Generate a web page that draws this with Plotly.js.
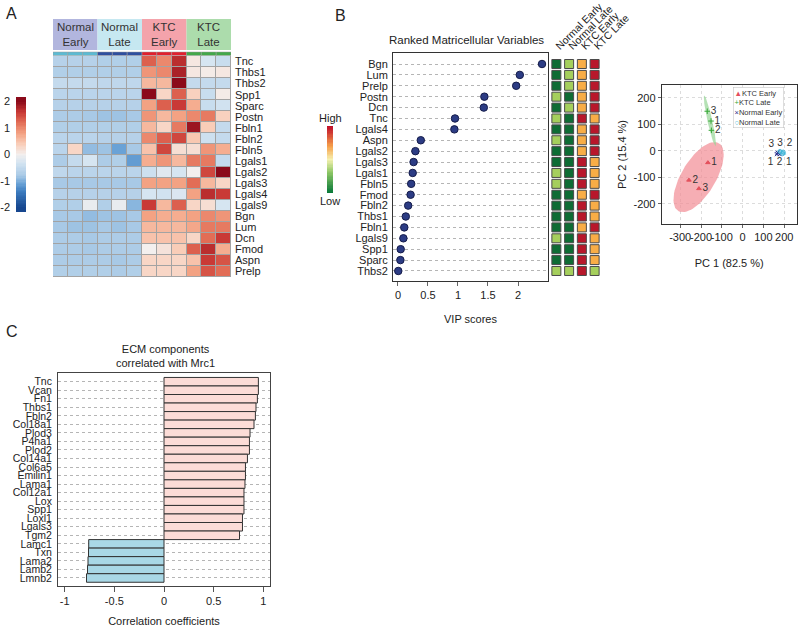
<!DOCTYPE html>
<html><head><meta charset="utf-8">
<script src="https://cdn.plot.ly/plotly-3.0.1.min.js"></script>
<style>html,body{margin:0;padding:0;background:#fff}#chart{width:800px;height:627px}</style>
</head><body><div id="chart"></div>
<script>
// ================= DATA =================
// Panel A: heatmap (z-scores), 12 samples x 20 genes
const heatGenes = ['Tnc','Thbs1','Thbs2','Spp1','Sparc','Postn','Fbln1','Fbln2','Fbln5','Lgals1','Lgals2','Lgals3','Lgals4','Lgals9','Bgn','Lum','Dcn','Fmod','Aspn','Prelp'];
const heatGroups = ['Normal<br>Early','Normal<br>Late','KTC<br>Early','KTC<br>Late'];
const heatGroupFill = ['#b2b6de','#c6e8f1','#f4a3ab','#acdcac'];
const heatGroupStrip = ['#5cbad2','#2f4e9e','#e0202e','#43a84a'];
const heatValues = [
  [-0.65,-0.65,-0.65,-0.7,-0.7,-0.7, 1.3,1.0,1.7, 0.1,-0.3,-0.45],   // Tnc
  [-0.7,-0.7,-0.7,-0.7,-0.7,-0.7, 0.9,1.0,1.8, 0.1,0.05,0.1],        // Thbs1
  [-0.5,-0.5,-0.5,-0.55,-0.55,-0.55, 0.6,0.6,2.3, -0.5,-0.5,-0.5],   // Thbs2
  [-0.6,-0.6,-0.6,-0.6,-0.6,-0.6, 2.0,0.3,1.3, 0.35,-0.45,0.05],     // Spp1
  [-0.65,-0.65,-0.65,-0.65,-0.65,-0.65, 0.8,1.3,1.6, 0.7,-0.45,-0.35],// Sparc
  [-0.75,-0.75,-0.8,-0.85,-0.85,-0.8, 0.9,0.6,0.8, 1.0,1.1,0.35],    // Postn
  [-0.7,-0.7,-0.7,-0.7,-0.7,-0.7, 0.6,0.3,1.1, 1.9,0.4,-0.5],        // Fbln1
  [-0.6,-0.6,-0.6,-0.65,-0.65,-0.65, 1.0,1.3,1.5, 0.45,-0.4,-0.5],   // Fbln2
  [-0.6,0.3,-0.9,-0.85,-1.1,-0.8, 0.5,1.5,0.2, 0.2,0.9,0.7],         // Fbln5
  [-0.75,-0.5,-0.3,-0.75,-0.7,-1.15, 0.7,0.9,0.6, 1.1,1.1,-0.5],     // Lgals1
  [-0.55,-0.6,-0.6,-0.6,-0.6,-0.6, -0.4,-0.2,-0.3, 0.0,1.5,2.0],     // Lgals2
  [-0.8,-0.8,-0.8,-0.8,-0.8,-0.8, 0.8,0.8,0.8, 1.2,0.6,0.3],         // Lgals3
  [-0.65,-0.65,-0.65,-0.65,-0.65,-0.65, -0.3,-0.35,-0.25, 0.8,1.7,1.6],// Lgals4
  [-0.7,-0.7,-0.1,-0.7,-0.1,-0.95, 1.6,0.6,1.3, 0.3,0.2,-0.3],       // Lgals9
  [-0.8,-0.8,-0.9,-0.85,-0.85,-0.8, 0.8,0.7,0.7, 0.8,1.0,0.9],       // Bgn
  [-0.8,-0.85,-0.85,-0.8,-0.85,-0.8, 0.6,0.6,0.6, 0.75,1.1,1.1],     // Lum
  [-0.75,-0.75,-0.8,-0.75,-0.75,-0.75, 0.5,0.5,0.5, 0.3,1.2,1.6],    // Dcn
  [-0.75,-0.75,-0.8,-0.75,-0.75,-0.75, 0.0,0.15,0.4, 1.3,1.7,0.7],   // Fmod
  [-0.75,-0.75,-0.75,-0.75,-0.8,-0.75, 0.3,0.3,0.3, 0.5,1.6,1.4],    // Aspn
  [-0.7,-0.7,-0.7,-0.7,-0.75,-0.7, 0.3,0.3,0.3, 0.8,1.4,1.2]         // Prelp
];
const heatScaleTicks = [-2,-1,0,1,2];

// Panel B: VIP scores
const vipGenes = ['Bgn','Lum','Prelp','Postn','Dcn','Tnc','Lgals4','Aspn','Lgals2','Lgals3','Lgals1','Fbln5','Fmod','Fbln2','Thbs1','Fbln1','Lgals9','Spp1','Sparc','Thbs2'];
const vipScores = [2.40,2.03,1.97,1.44,1.43,0.95,0.94,0.38,0.29,0.26,0.245,0.22,0.21,0.17,0.13,0.105,0.09,0.045,0.04,0.005];
const vipTicks = [0,0.5,1,1.5,2];
const vipGroupLabels = ['Normal Early','Normal Late','KTC Early','KTC Late'];
// relative level per group: 0 low (dark green) .. 3 high (red)
const vipLevels = [
  [0,1,2,3],[0,1,2,3],[0,1,2,3],[1,0,2,3],[0,1,2,3],
  [1,0,3,2],[0,0,2,3],[1,0,2,3],[0,0,2,3],[0,0,3,2],
  [1,0,3,2],[1,0,3,2],[0,0,2,3],[0,0,3,2],[0,0,3,2],
  [0,0,2,3],[1,0,3,2],[0,0,3,2],[0,0,3,2],[1,1,3,1]
];
const levelColors = ['#0e6c34','#a5cf5c','#f8ad46','#b8172b'];

// PCA panel
const pcaGroups = ['KTC Early','KTC Late','Normal Early','Normal Late'];
const pcaPC1 = { 'KTC Early':[-167,-258,-210], 'KTC Late':[-152,-150,-170], 'Normal Early':[165,178,168], 'Normal Late':[192,195,180] };
const pcaPC2 = { 'KTC Early':[-44,-110,-142], 'KTC Late':[113,78,150], 'Normal Early':[-12,-12,-6], 'Normal Late':[-10,-4,-2] };
const pcaReplicate = ['1','2','3'];
const pcaTicksX = [-300,-200,-100,0,100,200];
const pcaTicksY = [-200,-100,0,100,200];

// Panel C: correlations with Mrc1
const corrGenes = ['Tnc','Vcan','Fn1','Thbs1','Fbln2','Col18a1','Plod3','P4ha1','Plod2','Col14a1','Col6a5','Emilin1','Lama1','Col12a1','Lox','Spp1','Loxl1','Lgals3','Tgm2','Lamc1','Txn','Lama2','Lamb2','Lmnb2'];
const corrValues = [0.95,0.95,0.94,0.926,0.92,0.906,0.866,0.86,0.86,0.84,0.82,0.82,0.815,0.805,0.805,0.805,0.79,0.79,0.76,-0.758,-0.76,-0.765,-0.77,-0.78];
const corrTicks = [-1,-0.5,0,0.5,1];

// ================= STYLE / LAYOUT =================
const W = 800, H = 627;
const X = p => p / W, Y = p => 1 - p / H;
const FONT = '"Liberation Sans", Arial, Helvetica, sans-serif';
const TXT = '#222';
const idx = n => Array.from({length:n}, (_, i) => i);

const rdbu = [[0,'#17478f'],[0.15,'#3d7dc0'],[0.225,'#6aa2d6'],[0.3,'#a8c9e6'],[0.42,'#d4e4f1'],[0.5,'#f3efee'],[0.6,'#f9cdb8'],[0.7,'#f3a283'],[0.8,'#e26d56'],[0.9,'#c93a36'],[1,'#8b0a1a']];
const gyr = [[0,'#0a7a3a'],[0.3,'#8cc665'],[0.5,'#f6f1b0'],[0.7,'#f6a04a'],[1,'#c0102a']];

// legend-style color ramps (style only)
const rampA = []; for (let v = -2.15; v <= 2.1501; v += 0.05) rampA.push(+v.toFixed(2));
const rampB = []; for (let v = 0; v <= 1.0001; v += 0.02) rampB.push(+v.toFixed(2));

function covEllipse(xs, ys, k, n) {
  const m = xs.length;
  const mx = xs.reduce((a,b)=>a+b,0)/m, my = ys.reduce((a,b)=>a+b,0)/m;
  let sxx=0, syy=0, sxy=0;
  for (let i=0;i<m;i++){ const dx=xs[i]-mx, dy=ys[i]-my; sxx+=dx*dx; syy+=dy*dy; sxy+=dx*dy; }
  sxx/=(m-1); syy/=(m-1); sxy/=(m-1);
  const tr=sxx+syy, det=sxx*syy-sxy*sxy, d=Math.sqrt(Math.max(tr*tr/4-det,0));
  const l1=tr/2+d, l2=Math.max(tr/2-d,0);
  const ang=Math.atan2(l1-sxx, sxy);
  const a=k*Math.sqrt(l1), b=k*Math.sqrt(l2);
  const ex=[], ey=[];
  for (let i=0;i<=n;i++){ const t=2*Math.PI*i/n;
    ex.push(mx + a*Math.cos(t)*Math.cos(ang) - b*Math.sin(t)*Math.sin(ang));
    ey.push(my + a*Math.cos(t)*Math.sin(ang) + b*Math.sin(t)*Math.cos(ang)); }
  return {ex, ey};
}
const ellipseScale = 2.65;
const pcaStyle = {
  'KTC Early':   {color:'#e4505c', symbol:'triangle-up', fill:'rgba(242,140,148,0.7)', tp:['middle right','middle right','middle right']},
  'KTC Late':    {color:'#3aa83a', symbol:'cross-thin-open', fill:'rgba(150,212,150,0.7)', tp:['middle right','middle right','middle right']},
  'Normal Early':{color:'#2b2f8a', symbol:'x-thin-open', fill:'rgba(170,170,220,0.6)', tp:['bottom left','bottom center','top left']},
  'Normal Late': {color:'#3fb6d6', symbol:'circle-open', fill:'rgba(110,200,230,0.8)', tp:['bottom right','top right','top center']}
};

const traces = [];
// A heatmap
traces.push({type:'heatmap', z:heatValues, x:idx(12), y:idx(heatGenes.length), xaxis:'x', yaxis:'y',
  colorscale:rdbu, zmin:-2, zmax:2, showscale:false, xgap:1, ygap:1, hoverinfo:'skip'});
// A color scale bar
traces.push({type:'heatmap', z:rampA.map(v=>[v]), x:[0], y:rampA, xaxis:'x2', yaxis:'y2',
  colorscale:rdbu, zmin:-2, zmax:2, showscale:false, hoverinfo:'skip'});
// B dots
traces.push({type:'scatter', mode:'markers', x:vipScores, y:idx(vipGenes.length), xaxis:'x3', yaxis:'y3',
  marker:{size:7.5, color:'#2c3c84', line:{color:'#151c4a', width:1}}, showlegend:false, hoverinfo:'skip'});
// B squares
const sqX=[], sqY=[], sqC=[];
vipLevels.forEach((row, r) => row.forEach((lv, c) => { sqX.push(c); sqY.push(r); sqC.push(levelColors[lv]); }));
traces.push({type:'scatter', mode:'markers', x:sqX, y:sqY, xaxis:'x4', yaxis:'y4',
  marker:{symbol:'square', size:9, color:sqC, line:{color:'#4a4a4a', width:1}}, showlegend:false, hoverinfo:'skip'});
// B High/Low bar
traces.push({type:'heatmap', z:rampB.map(v=>[v]), x:[0], y:rampB, xaxis:'x5', yaxis:'y5',
  colorscale:gyr, zmin:0, zmax:1, showscale:false, hoverinfo:'skip'});
// PCA ellipses
pcaGroups.forEach(g => {
  const e = covEllipse(pcaPC1[g], pcaPC2[g], ellipseScale, 80);
  traces.push({type:'scatter', mode:'lines', x:e.ex, y:e.ey, xaxis:'x6', yaxis:'y6', fill:'toself',
    fillcolor:pcaStyle[g].fill, line:{width:0}, showlegend:false, hoverinfo:'skip'});
});
// PCA points
pcaGroups.forEach(g => {
  traces.push({type:'scatter', mode:'markers+text', x:pcaPC1[g], y:pcaPC2[g], xaxis:'x6', yaxis:'y6',
    text:pcaReplicate, textposition:pcaStyle[g].tp, textfont:{size:10, color:'#333', family:FONT},
    marker:{symbol:pcaStyle[g].symbol, size:4, color:pcaStyle[g].color, line:{color:pcaStyle[g].color, width:1}},
    name:g, showlegend:false, hoverinfo:'skip', cliponaxis:false});
});
// C bars
traces.push({type:'bar', orientation:'h', x:corrValues, y:idx(corrGenes.length), xaxis:'x7', yaxis:'y7', width:1,
  marker:{color:corrValues.map(v => v >= 0 ? '#fcdcd7' : '#a9d8e6'), line:{color:'#333', width:1}},
  showlegend:false, hoverinfo:'skip'});

const baseAx = {showgrid:false, zeroline:false, ticks:'', fixedrange:true, tickfont:{size:11, color:TXT, family:FONT}};
const titleFont = {size:11, color:TXT, family:FONT};

const shapes = [];
// grey cell borders under heatmap
shapes.push({type:'rect', xref:'x', yref:'y', x0:-0.5, x1:11.5, y0:-0.5, y1:19.5, fillcolor:'#a3a3a3', line:{color:'#a3a3a3', width:1}, layer:'below'});
heatGroups.forEach((g, i) => {
  shapes.push({type:'rect', xref:'x', yref:'paper', x0:3*i-0.5, x1:3*i+2.5, y0:Y(50), y1:Y(19), fillcolor:heatGroupFill[i], line:{width:0}, layer:'below'});
  for (let j = 0; j < 3; j++)
    shapes.push({type:'rect', xref:'x', yref:'paper', x0:3*i+j-0.5, x1:3*i+j+0.5, y0:Y(55.5), y1:Y(52), fillcolor:heatGroupStrip[i], line:{color:'#9a9a9a', width:0.5}});
});

const annotations = [];
const ann = (x, y, text, size, extra) => annotations.push(Object.assign({xref:'paper', yref:'paper', x:X(x), y:Y(y), xanchor:'center', yanchor:'middle', text, showarrow:false, font:{size, color:TXT, family:FONT}}, extra || {}));
ann(4, 13, 'A', 16, {xanchor:'left'});
ann(333, 16, 'B', 16, {xanchor:'left'});
ann(4, 331, 'C', 16, {xanchor:'left'});
heatGroups.forEach((g, i) => annotations.push({xref:'x', yref:'paper', x:3*i+1, y:Y(34.5), xanchor:'center', yanchor:'middle', text:g, showarrow:false, font:{size:11.5, color:'#333', family:FONT}}));
ann(466, 40, 'Ranked Matricellular Variables', 11.5);
ann(330, 118, 'High', 11);
ann(330, 201, 'Low', 11);
ann(165, 356, 'ECM components<br>correlated with Mrc1', 11);
// PCA legend
const legSym = {'KTC Early':'▲','KTC Late':'+','Normal Early':'×','Normal Late':'○'};
annotations.push({xref:'paper', yref:'paper', x:X(733), y:Y(87), xanchor:'left', yanchor:'top', align:'left', showarrow:false,
  text: pcaGroups.map(g => `<span style="color:${pcaStyle[g].color}">${legSym[g]}</span>${g}`).join('<br>'),
  font:{size:7.5, color:'#333', family:FONT}, bgcolor:'#fff', bordercolor:'#bbb', borderwidth:0.5, borderpad:1});

const layout = {
  width:W, height:H, margin:{l:0,r:0,t:0,b:0}, paper_bgcolor:'#fff', plot_bgcolor:'rgba(0,0,0,0)',
  font:{family:FONT, color:TXT, size:11}, showlegend:false, shapes, annotations,
  xaxis: Object.assign({}, baseAx, {domain:[X(53),X(231)], range:[-0.5,11.5], showticklabels:false, anchor:'y'}),
  yaxis: Object.assign({}, baseAx, {domain:[Y(277),Y(56)], range:[19.5,-0.5], side:'right', tickvals:idx(heatGenes.length), ticktext:heatGenes, ticklabelstandoff:3, anchor:'x'}),
  xaxis2: Object.assign({}, baseAx, {domain:[X(16),X(26)], range:[-0.5,0.5], showticklabels:false, anchor:'y2'}),
  yaxis2: Object.assign({}, baseAx, {domain:[Y(212),Y(97)], range:[-2.175,2.175], tickvals:heatScaleTicks, ticktext:heatScaleTicks.map(String), ticklabelstandoff:5, anchor:'x2'}),
  xaxis3: Object.assign({}, baseAx, {domain:[X(393),X(548)], range:[-0.083,2.5], tickvals:vipTicks, ticktext:vipTicks.map(String), ticks:'outside', ticklen:4, tickcolor:'#666',
    showline:true, mirror:true, linecolor:'#333', linewidth:1, anchor:'y3', title:{text:'VIP scores', font:titleFont, standoff:15}}),
  yaxis3: Object.assign({}, baseAx, {domain:[Y(281),Y(53)], range:[19.92,-1.01], tickvals:idx(vipGenes.length), ticktext:vipGenes,
    showgrid:true, gridcolor:'#b5b5b5', griddash:'dot', gridwidth:1, showline:true, mirror:true, linecolor:'#333', linewidth:1, ticklabelstandoff:2, anchor:'x3'}),
  xaxis4: Object.assign({}, baseAx, {domain:[X(550),X(601)], range:[-0.5,3.5], side:'top', tickvals:[0,1,2,3], ticktext:vipGroupLabels, tickangle:-45, ticklabelstandoff:-2,
    tickfont:{size:10.5, color:TXT, family:FONT}, anchor:'y4'}),
  yaxis4: Object.assign({}, baseAx, {domain:[Y(281),Y(53)], range:[19.92,-1.01], showticklabels:false, anchor:'x4'}),
  xaxis5: Object.assign({}, baseAx, {domain:[X(327),X(333)], range:[-0.5,0.5], showticklabels:false, anchor:'y5'}),
  yaxis5: Object.assign({}, baseAx, {domain:[Y(193),Y(126)], range:[-0.01,1.01], showticklabels:false, anchor:'x5'}),
  xaxis6: Object.assign({}, baseAx, {domain:[X(661.7),X(796.7)], range:[-389,260], tickvals:pcaTicksX, ticktext:pcaTicksX.map(String), tickangle:0,
    ticks:'outside', ticklen:3, tickcolor:'#666', showgrid:true, gridcolor:'#dcdcdc', griddash:'dot', showline:true, mirror:true, linecolor:'#333', linewidth:1,
    anchor:'y6', title:{text:'PC 1 (82.5 %)', font:titleFont, standoff:17}}),
  yaxis6: Object.assign({}, baseAx, {domain:[Y(224),Y(85)], range:[-275.5,249], tickvals:pcaTicksY, ticktext:pcaTicksY.map(String),
    ticks:'outside', ticklen:3, tickcolor:'#666', showgrid:true, gridcolor:'#dcdcdc', griddash:'dot', showline:true, mirror:true, linecolor:'#333', linewidth:1,
    anchor:'x6', title:{text:'PC 2 (15.4 %)', font:titleFont, standoff:4}}),
  xaxis7: Object.assign({}, baseAx, {domain:[X(58),X(270)], range:[-1.067,1.067], tickvals:corrTicks, ticktext:corrTicks.map(String), ticks:'outside', ticklen:5, tickcolor:'#555',
    showline:true, mirror:true, linecolor:'#444', linewidth:1, anchor:'y7', title:{text:'Correlation coefficients', font:titleFont, standoff:11}}),
  yaxis7: Object.assign({}, baseAx, {domain:[Y(586),Y(373)], range:[23.94,-1.02], tickvals:idx(corrGenes.length), ticktext:corrGenes,
    tickfont:{size:10.5, color:TXT, family:FONT},
    showgrid:true, gridcolor:'#b5b5b5', griddash:'dot', gridwidth:1, showline:true, mirror:true, linecolor:'#444', linewidth:1, ticklabelstandoff:3, anchor:'x7'})
};

Plotly.newPlot('chart', traces, layout, {displayModeBar:false, staticPlot:true});
</script></body></html>
